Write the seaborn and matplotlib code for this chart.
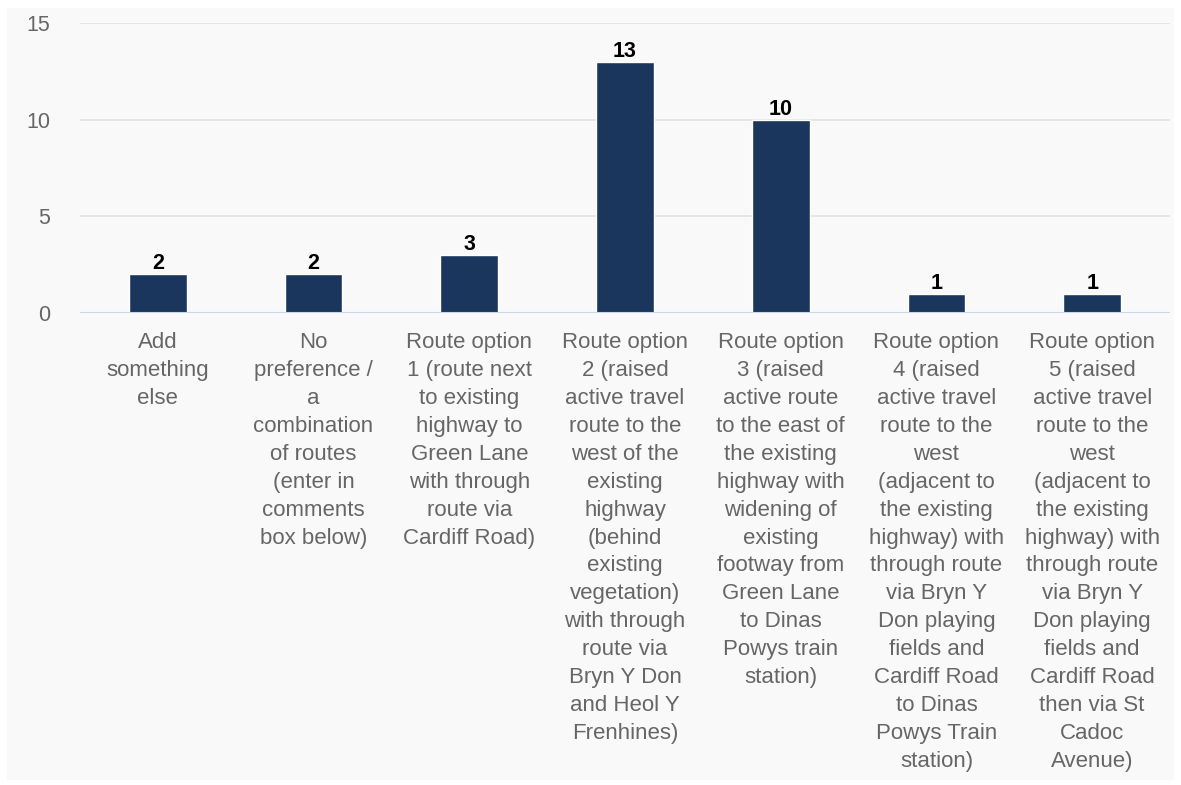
import seaborn as sns
import matplotlib.pyplot as plt
import pandas as pd

# data
categories = [
    "Add\nsomething\nelse",
    "No\npreference /\na\ncombination\nof routes\n(enter in\ncomments\nbox below)",
    "Route option\n1 (route next\nto existing\nhighway to\nGreen Lane\nwith through\nroute via\nCardiff Road)",
    "Route option\n2 (raised\nactive travel\nroute to the\nwest of the\nexisting\nhighway\n(behind\nexisting\nvegetation)\nwith through\nroute via\nBryn Y Don\nand Heol Y\nFrenhines)",
    "Route option\n3 (raised\nactive route\nto the east of\nthe existing\nhighway with\nwidening of\nexisting\nfootway from\nGreen Lane\nto Dinas\nPowys train\nstation)",
    "Route option\n4 (raised\nactive travel\nroute to the\nwest\n(adjacent to\nthe existing\nhighway) with\nthrough route\nvia Bryn Y\nDon playing\nfields and\nCardiff Road\nto Dinas\nPowys Train\nstation)",
    "Route option\n5 (raised\nactive travel\nroute to the\nwest\n(adjacent to\nthe existing\nhighway) with\nthrough route\nvia Bryn Y\nDon playing\nfields and\nCardiff Road\nthen via St\nCadoc\nAvenue)",
]
counts = [2, 2, 3, 13, 10, 1, 1]
y_ticks = [0, 5, 10, 15]

df = pd.DataFrame({"category": categories, "count": counts})

sns.set_style("white")
plt.rcParams['font.family'] = ['Liberation Sans', 'DejaVu Sans']

fig = plt.figure(figsize=(11.81, 7.85), dpi=100, facecolor="white")
# light grey panel behind the chart
fig.patches.append(plt.Rectangle((0.006, 0.006), 0.988, 0.984, transform=fig.transFigure,
                                 facecolor="#f9f9f9", edgecolor="none", zorder=-10))
ax = fig.add_axes([0.0677, 0.6013, 0.9230, 0.3694])
ax.set_facecolor("#f9f9f9")

sns.barplot(data=df, x="category", y="count", color="#1b365d", width=0.37,
            saturation=1, ax=ax, zorder=3)

for i, v in enumerate(counts):
    ax.text(i, v, str(v), ha="center", va="bottom", fontsize=15.5,
            fontweight="bold", color="black", zorder=4)

ax.set_ylim(0, 15)
ax.set_yticks(y_ticks)
ax.yaxis.grid(True, color="#e2e2e2", linewidth=1.2, zorder=0)
ax.axhline(0, color="#c9d5ea", linewidth=1.5, zorder=4)
for s in ax.spines.values():
    s.set_visible(False)

ax.set_xlabel("")
ax.set_ylabel("")
ax.tick_params(axis="x", length=0, pad=14, labelsize=16, labelcolor="#666666")
ax.tick_params(axis="y", length=0, pad=21.5, labelsize=15.5, labelcolor="#666666")
for lbl in ax.get_xticklabels():
    lbl.set_linespacing(1.43)

fig.savefig("out.png", dpi=100, facecolor="white")
